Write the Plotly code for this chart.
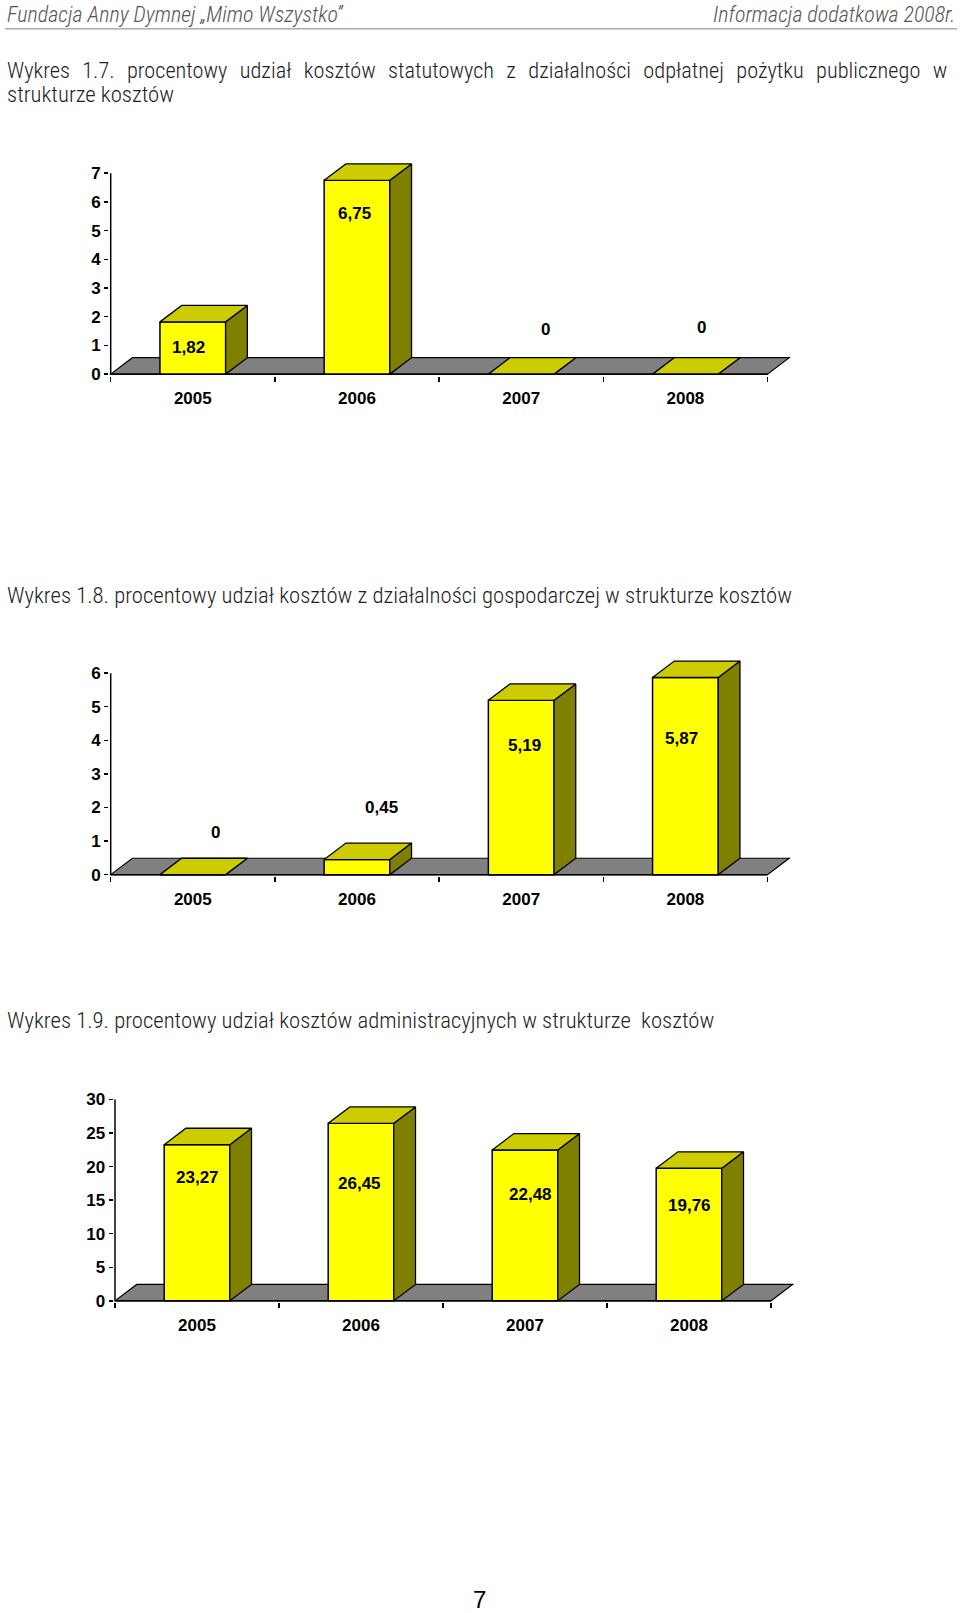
import plotly.graph_objects as go

# ---------------- data ----------------
years = ["2005", "2006", "2007", "2008"]
vals_17 = [1.82, 6.75, 0, 0]
vals_18 = [0, 0.45, 5.19, 5.87]
vals_19 = [23.27, 26.45, 22.48, 19.76]
yticks_17 = [0, 1, 2, 3, 4, 5, 6, 7]
yticks_18 = [0, 1, 2, 3, 4, 5, 6]
yticks_19 = [0, 5, 10, 15, 20, 25, 30]

header_left = "Fundacja Anny Dymnej „Mimo Wszystko”"
header_right = "Informacja dodatkowa 2008r."
title_17a = "Wykres 1.7. procentowy udział kosztów statutowych z działalności odpłatnej pożytku publicznego w"
title_17b = "strukturze kosztów"
title_18 = "Wykres 1.8. procentowy udział kosztów z działalności gospodarczej w strukturze kosztów"
title_19 = "Wykres 1.9. procentowy udział kosztów administracyjnych w strukturze  kosztów"
page_no = "7"

# ---------------- style ----------------
W, H = 960, 1613
FRONT = "#FFFF00"
TOP = "#CCCC00"
SIDE = "#808000"
FLOOR = "#808080"
EDGE = "black"
DX_PX, DY_PX = 21.7, 16.5
BAR_W = 0.4
E = 1.5
TICK_FONT = dict(family="Liberation Sans, Arial, sans-serif", size=17, color="black", weight="bold")
TEXT_FONT = "Liberation Sans Narrow, Roboto Condensed, Liberation Sans, sans-serif"
TITLE_SIZE = 22.7
TITLE_JUST_SIZE = 22.3
JUSTIFY_GAP = "\u2002\u200a"   # wider word gap to mimic justified first title line

charts = [
    dict(vals=vals_17, yt=yticks_17, x0=110.7, x1=767.5, y0=376.0, ytop=174.0, top=150,
         lab=[(-4.5, 25.8), (-3, 33), (24, -45), (15.6, -47)]),
    dict(vals=vals_18, yt=yticks_18, x0=110.7, x1=767.5, y0=879.0, ytop=676.5, top=650,
         lab=[(23, -41.7), (24.7, -51.8), (3.6, 45), (-4.4, 61)]),
    dict(vals=vals_19, yt=yticks_19, x0=115.0, x1=771.0, y0=1307.3, ytop=1105.0, top=1095,
         lab=[(0, 33), (-2, 60.6), (5, 45), (0, 37)]),
]


def fmt(v):
    if v == 0:
        return "0"
    return f"{v:.2f}".replace(".", ",")


fig = go.Figure()
annotations = []
shapes = []
layout_axes = {}

for k, c in enumerate(charts, start=1):
    xname, yname = ("xaxis" if k == 1 else f"xaxis{k}"), ("yaxis" if k == 1 else f"yaxis{k}")
    xa_ref = "x" if k == 1 else f"x{k}"
    ya_ref = "y" if k == 1 else f"y{k}"
    vals = c["vals"]
    xs = list(range(len(years)))
    cw = (c["x1"] - c["x0"]) / len(years)
    ppu = (c["y0"] - c["ytop"]) / c["yt"][-1]
    dxu = DX_PX / cw
    dyu = DY_PX / ppu

    xrange = [-0.5 - E / cw, len(years) - 0.5 + (DX_PX + E) / cw]
    yrange = [-E / ppu, (c["y0"] - c["top"]) / ppu]
    xdom = [(c["x0"] - E) / W, (c["x1"] + DX_PX + E) / W]
    ydom = [1 - (c["y0"] + E) / H, 1 - c["top"] / H]

    # floor (below traces)
    x_l, x_r = -0.5, len(years) - 0.5
    shapes.append(dict(
        type="path", xref=xa_ref, yref=ya_ref, layer="below",
        path=f"M {x_l},0 L {x_r},0 L {x_r + dxu},{dyu} L {x_l + dxu},{dyu} Z",
        fillcolor=FLOOR, line=dict(color=EDGE, width=1.2)))

    # front faces
    fig.add_trace(go.Bar(x=xs, y=vals, width=BAR_W, xaxis=xa_ref, yaxis=ya_ref,
                         marker=dict(color=FRONT, line=dict(color=EDGE, width=1.5)),
                         hoverinfo="skip", showlegend=False))

    # side and top faces
    sx, sy = [], []
    tx, ty = [], []
    for i, v in zip(xs, vals):
        r = i + BAR_W / 2
        l = i - BAR_W / 2
        sx += [r, r + dxu, r + dxu, r, r, None]
        sy += [0, dyu, v + dyu, v, 0, None]
        tx += [l, r, r + dxu, l + dxu, l, None]
        ty += [v, v, v + dyu, v + dyu, v, None]
    fig.add_trace(go.Scatter(x=sx, y=sy, xaxis=xa_ref, yaxis=ya_ref, mode="lines",
                             fill="toself", fillcolor=SIDE, line=dict(color=EDGE, width=1.3),
                             hoverinfo="skip", showlegend=False))
    fig.add_trace(go.Scatter(x=tx, y=ty, xaxis=xa_ref, yaxis=ya_ref, mode="lines",
                             fill="toself", fillcolor=TOP, line=dict(color=EDGE, width=1.3),
                             hoverinfo="skip", showlegend=False))

    # axis lines
    fig.add_trace(go.Scatter(x=[x_l, x_l, None, x_l, x_r], y=[c["yt"][-1], 0, None, 0, 0],
                             xaxis=xa_ref, yaxis=ya_ref, mode="lines",
                             line=dict(color=EDGE, width=1.5), hoverinfo="skip", showlegend=False))

    # data labels
    for i, v, (ox, oy) in zip(xs, vals, c["lab"]):
        annotations.append(dict(x=i, y=v, xref=xa_ref, yref=ya_ref, text=fmt(v), showarrow=False,
                                xshift=ox, yshift=-oy, font=TICK_FONT,
                                xanchor="center", yanchor="middle"))

    layout_axes[xname] = dict(
        domain=xdom, range=xrange, anchor=ya_ref, tickmode="array", tickvals=xs, ticktext=years,
        ticks="outside", ticklen=7, tickcolor="rgba(0,0,0,0)", tickfont=TICK_FONT,
        showline=False, showgrid=False, zeroline=False, fixedrange=True,
        minor=dict(tickmode="array", tickvals=[x_l + j for j in range(len(years) + 1)],
                   ticks="outside", ticklen=5, tickwidth=1.5, tickcolor=EDGE, showgrid=False))
    layout_axes[yname] = dict(
        domain=ydom, range=yrange, anchor=xa_ref, tickmode="array", tickvals=c["yt"],
        ticks="outside", ticklen=4, tickwidth=1.5, tickcolor=EDGE, tickfont=TICK_FONT,
        showline=False, showgrid=False, zeroline=False, fixedrange=True)


def ptext(text, xpx, ypx, size, anchor="left", color="#222222", style="normal",
          family=TEXT_FONT, weight=300, yanchor="middle"):
    return dict(x=xpx / W, y=1 - ypx / H, xref="paper", yref="paper", text=text, showarrow=False,
                xanchor=anchor, yanchor=yanchor,
                font=dict(family=family, size=size, color=color, style=style, weight=weight))


annotations += [
    ptext(header_left, 5, 0, 22, "left", "#555555", "italic", yanchor="top"),
    ptext(header_right, 957, 0, 22, "right", "#555555", "italic", yanchor="top"),
    ptext(title_17a.replace(" ", JUSTIFY_GAP), 5, 70, TITLE_JUST_SIZE),
    ptext(title_17b, 5, 95, TITLE_SIZE),
    ptext(title_18, 5, 598, TITLE_SIZE),
    ptext(title_19, 5, 1026, TITLE_SIZE),
    ptext(page_no, 479.5, 1607, 24, "center", "black", family="Liberation Sans, Arial, sans-serif",
          weight=400),
]
shapes.append(dict(type="line", xref="paper", yref="paper", x0=5 / W, x1=957 / W,
                   y0=1 - 29 / H, y1=1 - 29 / H, line=dict(color="#808080", width=1)))

fig.update_layout(
    width=W, height=H, margin=dict(l=0, r=0, t=0, b=0),
    paper_bgcolor="white", plot_bgcolor="rgba(0,0,0,0)",
    showlegend=False, barmode="overlay",
    annotations=annotations, shapes=shapes, **layout_axes)

fig.write_html("out.html", config={"displayModeBar": False, "staticPlot": True},
               post_script="document.body.style.margin='0';document.body.style.overflow='hidden';")
